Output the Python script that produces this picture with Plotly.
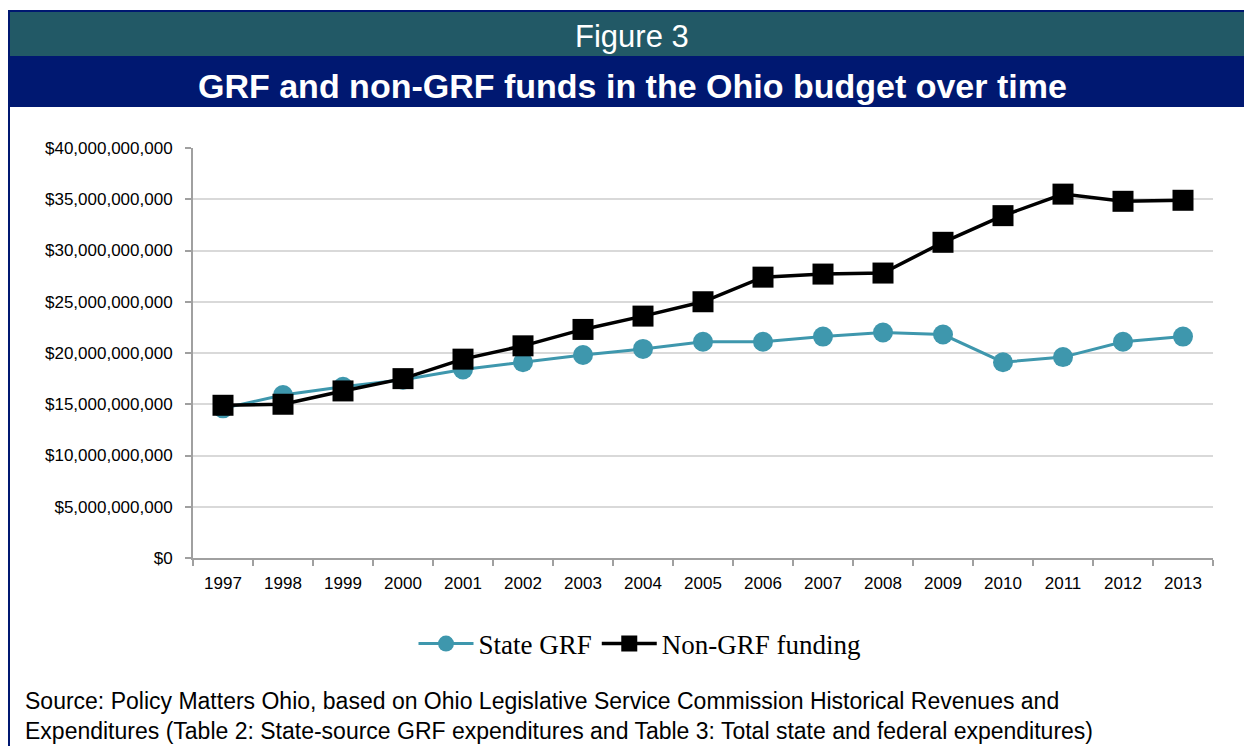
import plotly.graph_objects as go

years = [str(y) for y in range(1997, 2014)]
state_grf = [14.6, 15.9, 16.7, 17.4, 18.4, 19.1, 19.8, 20.4, 21.1, 21.1, 21.6, 22.0, 21.8, 19.1, 19.6, 21.1, 21.6]
non_grf = [14.9, 15.0, 16.3, 17.5, 19.4, 20.7, 22.3, 23.6, 25.0, 27.4, 27.7, 27.8, 30.8, 33.4, 35.5, 34.8, 34.9]
state_vals = [v * 1e9 for v in state_grf]
non_vals = [v * 1e9 for v in non_grf]

W, H = 1244, 746
L, R, T, B = 193, 1213, 148, 558

def px(x):
    return (x - L) / (R - L)

def py(y):
    return (B - y) / (B - T)

fig = go.Figure()
fig.add_trace(go.Scatter(
    x=years, y=state_vals, name="State GRF", mode="lines+markers",
    line=dict(color="#3E97AD", width=3),
    marker=dict(symbol="circle", size=20, color="#3E97AD"),
))
fig.add_trace(go.Scatter(
    x=years, y=non_vals, name="Non-GRF funding", mode="lines+markers",
    line=dict(color="#000000", width=3.5),
    marker=dict(symbol="square", size=21, color="#000000"),
))

shapes = [
    dict(type="rect", xref="paper", yref="paper", x0=px(9), x1=px(1244), y0=py(12), y1=py(56),
         fillcolor="#225966", line=dict(width=0), layer="below"),
    dict(type="rect", xref="paper", yref="paper", x0=px(9), x1=px(1244), y0=py(56), y1=py(107),
         fillcolor="#001871", line=dict(width=0), layer="below"),
    dict(type="rect", xref="paper", yref="paper", x0=px(8), x1=px(1244), y0=py(10), y1=py(12),
         fillcolor="#001871", line=dict(width=0), layer="below"),
    dict(type="rect", xref="paper", yref="paper", x0=px(8), x1=px(10), y0=py(10), y1=py(746),
         fillcolor="#001871", line=dict(width=0), layer="below"),
]

annotations = [
    dict(text="Figure 3", xref="paper", yref="paper", x=px(632), y=py(37),
         xanchor="center", yanchor="middle", showarrow=False,
         font=dict(family="Liberation Sans, Arial", size=31, color="white")),
    dict(text="<b>GRF and non-GRF funds in the Ohio budget over time</b>", xref="paper", yref="paper",
         x=px(632), y=py(86), xanchor="center", yanchor="middle", showarrow=False,
         font=dict(family="Liberation Sans, Arial", size=34, color="white")),
    dict(text="Source: Policy Matters Ohio, based on Ohio Legislative Service Commission Historical Revenues and<br>"
              "Expenditures (Table 2: State-source GRF expenditures and Table 3: Total state and federal expenditures)",
         xref="paper", yref="paper", x=px(23), y=py(716), xanchor="left", yanchor="middle",
         align="left", showarrow=False,
         font=dict(family="Liberation Sans, Arial", size=23, color="black")),
]

tickfont = dict(family="Liberation Sans, Arial", size=17, color="black")

fig.update_layout(
    width=W, height=H,
    margin=dict(l=L, r=W - R, t=T, b=H - B, pad=0),
    paper_bgcolor="white", plot_bgcolor="white",
    shapes=shapes, annotations=annotations,
    showlegend=True,
    legend=dict(orientation="h", x=px(640), y=py(644), xanchor="center", yanchor="middle",
                font=dict(family="Liberation Serif, serif", size=27, color="black"),
                itemwidth=55, bgcolor="rgba(0,0,0,0)"),
    xaxis=dict(type="category", range=[-0.5, 16.5], tickson="boundaries",
               showline=True, linecolor="#A0A0A0", linewidth=2,
               ticks="outside", ticklen=6, tickcolor="#A0A0A0", tickwidth=2,
               ticklabelstandoff=9,
               showgrid=False, zeroline=False, tickfont=tickfont),
    yaxis=dict(range=[0, 40e9], dtick=5e9, tickprefix="$", tickformat=",.0f",
               showline=True, linecolor="#A0A0A0", linewidth=2,
               ticks="outside", ticklen=6, tickcolor="#A0A0A0", tickwidth=2,
               ticklabelstandoff=9,
               showgrid=True, gridcolor="#D9D9D9", gridwidth=1.5, zeroline=False,
               tickfont=tickfont),
)

fig.write_html("out.html")
